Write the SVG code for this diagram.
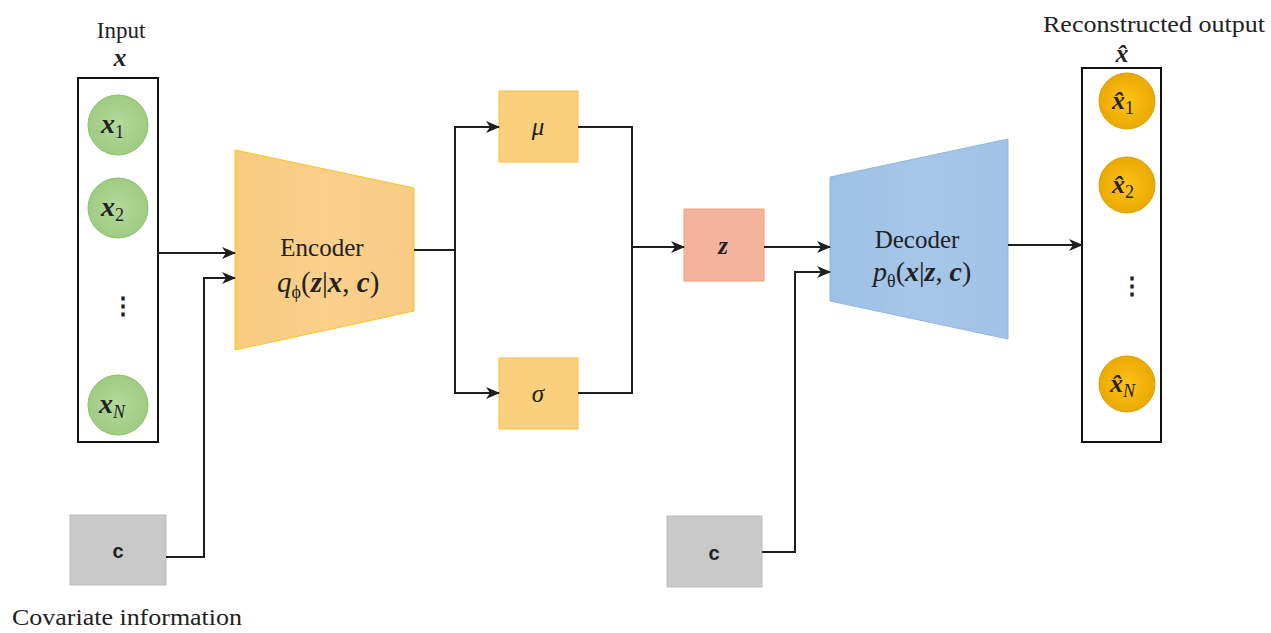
<svg xmlns="http://www.w3.org/2000/svg" width="1271" height="633" viewBox="0 0 1271 633">
<style>
.lbl{font-family:"Liberation Serif","Times New Roman",serif;fill:#222;}
.m{font-family:"Liberation Serif","Times New Roman",serif;font-style:italic;fill:#222;}
.mb{font-family:"Liberation Serif","Times New Roman",serif;font-style:italic;font-weight:bold;fill:#222;}
.sub{font-style:normal;font-weight:normal;font-size:18px;}
.subi{font-style:italic;font-weight:normal;font-size:18px;}
.conn{fill:none;stroke:#1e1e1e;stroke-width:2;}
.frame{fill:#fff;stroke:#111;stroke-width:2;}
.gc{fill:url(#green);stroke:#8cbf6c;stroke-width:1;}
.oc{fill:url(#gold);stroke:#d9a000;stroke-width:1;}
.cbox{fill:#c9c9c9;stroke:#bdbdbd;stroke-width:1;}
.csym{font-family:"Liberation Sans",Arial,sans-serif;font-weight:bold;font-size:20px;fill:#222;}
</style>
<defs>
<radialGradient id="green" cx="0.5" cy="0.5" r="0.5"><stop offset="0" stop-color="#b5d99c"/><stop offset="1" stop-color="#9fcb82"/></radialGradient>
<radialGradient id="gold" cx="0.5" cy="0.5" r="0.5"><stop offset="0" stop-color="#ffc31a"/><stop offset="1" stop-color="#e9a900"/></radialGradient>
<linearGradient id="enc" x1="0" y1="0" x2="1" y2="0"><stop offset="0" stop-color="#f9ca7e"/><stop offset="0.5" stop-color="#fad08c"/><stop offset="1" stop-color="#f9cc84"/></linearGradient>
<linearGradient id="dec" x1="0" y1="0" x2="1" y2="0"><stop offset="0" stop-color="#9cc0e6"/><stop offset="0.5" stop-color="#a6c7e9"/><stop offset="1" stop-color="#a0c3e7"/></linearGradient>
<marker id="arr" markerUnits="userSpaceOnUse" markerWidth="14" markerHeight="12" viewBox="0 0 14 12" refX="13" refY="6" orient="auto">
<path d="M0,0 L14,6 L0,12 L4,6 z" fill="#1e1e1e"/>
</marker>
</defs>

<g id="input">
<text class="lbl" x="121" y="38" font-size="23" text-anchor="middle">Input</text>
<text class="mb" x="120" y="66" font-size="26" text-anchor="middle">x</text>
<rect class="frame" x="78" y="78" width="80" height="364"/>
<circle class="gc" cx="118" cy="125" r="30"/>
<text class="mb" x="101" y="133" font-size="28">x<tspan class="sub" dy="5">1</tspan></text>
<circle class="gc" cx="118" cy="208" r="30"/>
<text class="mb" x="101" y="216" font-size="28">x<tspan class="sub" dy="5">2</tspan></text>
<text class="lbl" x="111" y="314" font-size="24" font-weight="bold">⋮</text>
<circle class="gc" cx="118" cy="405" r="30"/>
<text class="mb" x="99" y="413" font-size="28">x<tspan class="subi" dy="5">N</tspan></text>
</g>

<g id="encoder">
<polygon points="235,150 414,188 414,311 235,350" fill="url(#enc)" stroke="#f5c518" stroke-width="1"/>
<text class="lbl" x="322" y="256" font-size="25" text-anchor="middle">Encoder</text>
<text class="m" x="277" y="292" font-size="29">q<tspan class="sub" font-style="italic" dy="6">ϕ</tspan><tspan dy="-6" font-style="normal">(</tspan><tspan font-weight="bold">z</tspan><tspan font-style="normal">|</tspan><tspan font-weight="bold">x</tspan><tspan font-style="normal">, </tspan><tspan font-weight="bold">c</tspan><tspan font-style="normal">)</tspan></text>
</g>

<g id="mu">
<rect x="499" y="91" width="79" height="71" fill="#fbd07c" stroke="#f5c242" stroke-width="1"/>
<text class="m" x="538" y="135" font-size="25" text-anchor="middle">μ</text>
</g>

<g id="sigma">
<rect x="499" y="358" width="79" height="71" fill="#fbd07c" stroke="#f5c242" stroke-width="1"/>
<text class="m" x="538" y="402" font-size="25" text-anchor="middle">σ</text>
</g>

<g id="z">
<rect x="684" y="209" width="80" height="72" fill="#f4b39c" stroke="#f2a07c" stroke-width="1"/>
<text class="mb" x="723" y="254" font-size="25" text-anchor="middle">z</text>
</g>

<g id="decoder">
<polygon points="830,177 1008,139 1008,339 830,301" fill="url(#dec)" stroke="#8fb5e0" stroke-width="1"/>
<text class="lbl" x="917" y="248" font-size="25" text-anchor="middle">Decoder</text>
<text class="m" x="873" y="281" font-size="28">p<tspan class="sub" font-style="italic" dy="6">θ</tspan><tspan dy="-6" font-style="normal">(</tspan><tspan font-weight="bold">x</tspan><tspan font-style="normal">|</tspan><tspan font-weight="bold">z</tspan><tspan font-style="normal">, </tspan><tspan font-weight="bold">c</tspan><tspan font-style="normal">)</tspan></text>
</g>

<g id="output">
<text class="lbl" x="1154" y="32" font-size="23" text-anchor="middle" textLength="222" lengthAdjust="spacingAndGlyphs">Reconstructed output</text>
<text class="mb" x="1122" y="62" font-size="26" text-anchor="middle">x̂</text>
<rect class="frame" x="1082" y="68" width="79" height="374"/>
<circle class="oc" cx="1127" cy="101" r="28"/>
<text class="mb" x="1112" y="109" font-size="26">x̂<tspan class="sub" dy="5">1</tspan></text>
<circle class="oc" cx="1127" cy="185" r="28"/>
<text class="mb" x="1112" y="193" font-size="26">x̂<tspan class="sub" dy="5">2</tspan></text>
<text class="lbl" x="1120" y="294" font-size="24" font-weight="bold">⋮</text>
<circle class="oc" cx="1127" cy="384" r="28"/>
<text class="mb" x="1110" y="392" font-size="26">x̂<tspan class="subi" dy="5">N</tspan></text>
</g>

<g id="c1">
<rect class="cbox" x="70" y="515" width="96" height="70"/>
<text class="csym" x="118" y="558" text-anchor="middle">c</text>
</g>

<g id="c2">
<rect class="cbox" x="667" y="516" width="95" height="71"/>
<text class="csym" x="714" y="560" text-anchor="middle">c</text>
</g>

<g id="covariate-label">
<text class="lbl" x="127" y="625" font-size="24" text-anchor="middle" textLength="230" lengthAdjust="spacingAndGlyphs">Covariate information</text>
</g>

<g id="connectors">
<path class="conn" d="M158,253 H235" marker-end="url(#arr)"/>
<path class="conn" d="M166,557 H204 V278 H235" marker-end="url(#arr)"/>
<path class="conn" d="M414,250 H455 V127 H499" marker-end="url(#arr)"/>
<path class="conn" d="M455,250 V393 H499" marker-end="url(#arr)"/>
<path class="conn" d="M578,127 H632 V393 H578"/>
<path class="conn" d="M632,247 H684" marker-end="url(#arr)"/>
<path class="conn" d="M764,247 H830" marker-end="url(#arr)"/>
<path class="conn" d="M762,552 H795 V272 H830" marker-end="url(#arr)"/>
<path class="conn" d="M1008,245 H1082" marker-end="url(#arr)"/>
</g>
</svg>
